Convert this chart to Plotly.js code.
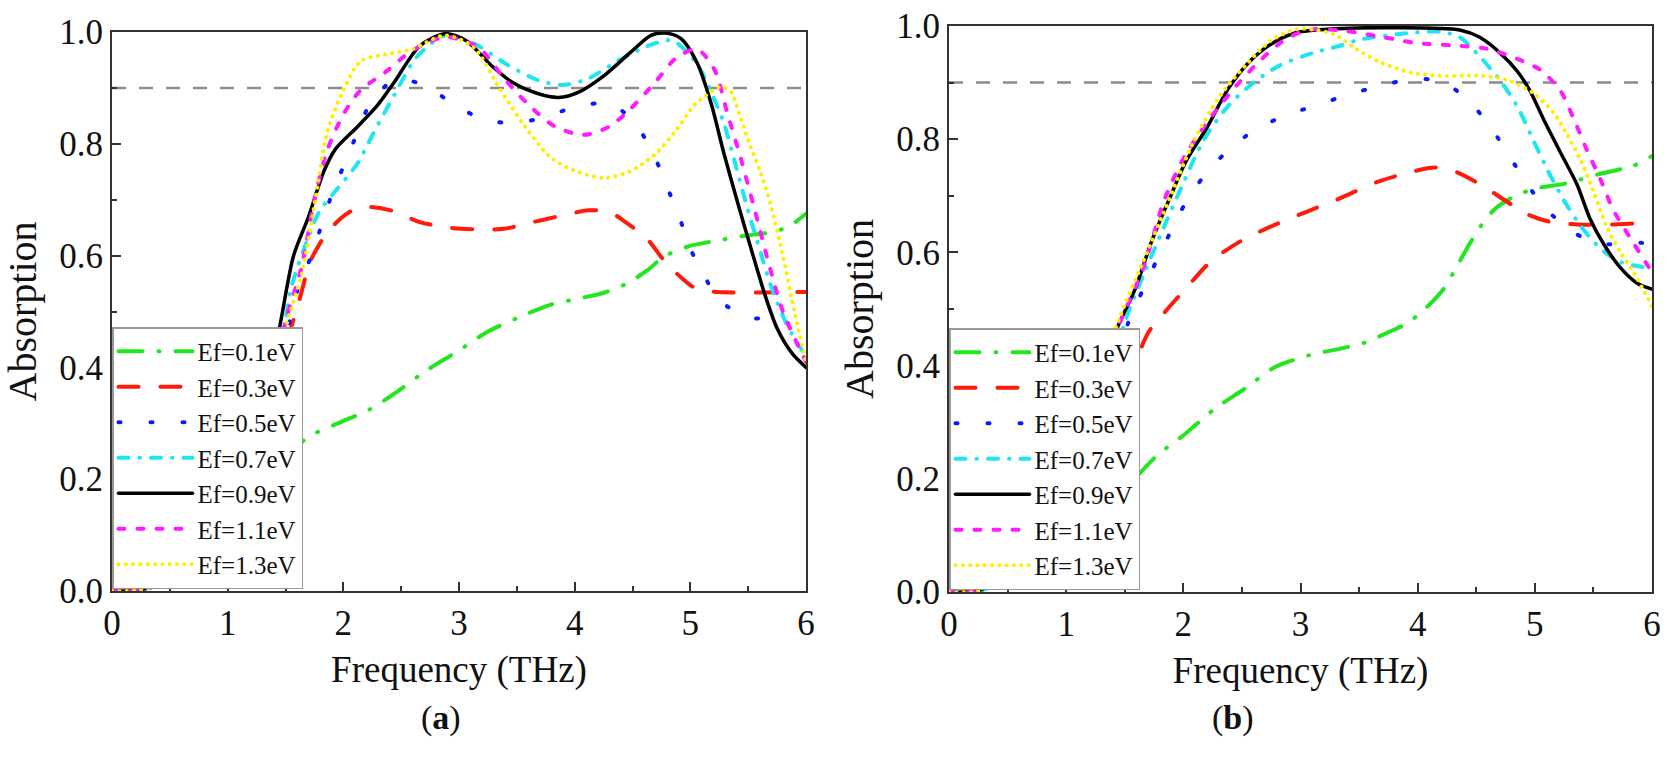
<!DOCTYPE html>
<html>
<head>
<meta charset="utf-8">
<script src="https://cdn.plot.ly/plotly-3.0.1.min.js"></script>
<style>
  html, body { margin: 0; padding: 0; background: #fff; }
  #plot { width: 1671px; height: 766px; }
  /* rounded dash ends, like the original Origin export */
  .js-line { stroke-linecap: round; }
</style>
</head>
<body>
<div id="plot"></div>
<script>
// ─── Panel (a) ─────────────────────────────────────────────────────
const freqA01 = [0, 0.25, 0.6, 1.0, 1.4, 1.68, 1.93, 2.23, 2.44, 2.73, 2.99, 3.24, 3.50, 3.79, 4.08, 4.26, 4.44, 4.63, 4.77, 4.99, 5.21, 5.46, 5.7, 5.85, 6.0];
const absA01  = [0, 0.002, 0.04, 0.12, 0.21, 0.273, 0.298, 0.325, 0.353, 0.396, 0.429, 0.463, 0.488, 0.512, 0.525, 0.534, 0.549, 0.574, 0.598, 0.617, 0.626, 0.635, 0.642, 0.652, 0.675];

const freqA03 = [0, 0.25, 0.6, 1.0, 1.3, 1.5, 1.6, 1.72, 1.86, 2.01, 2.15, 2.41, 2.66, 2.92, 3.17, 3.39, 3.64, 3.90, 4.12, 4.30, 4.44, 4.63, 4.77, 4.92, 5.06, 5.35, 5.6, 6.0];
const absA03  = [0, 0.002, 0.03, 0.12, 0.28, 0.44, 0.505, 0.592, 0.641, 0.672, 0.687, 0.681, 0.66, 0.65, 0.647, 0.648, 0.66, 0.672, 0.681, 0.678, 0.66, 0.629, 0.592, 0.561, 0.54, 0.534, 0.534, 0.535];

const freqA05 = [0, 0.25, 0.6, 1.0, 1.3, 1.5, 1.61, 1.72, 1.90, 2.01, 2.12, 2.23, 2.44, 2.70, 2.95, 3.21, 3.50, 3.77, 4.04, 4.32, 4.53, 4.68, 4.79, 4.90, 4.99, 5.12, 5.26, 5.54, 5.75, 6.0];
const absA05  = [0, 0.002, 0.03, 0.12, 0.27, 0.45, 0.543, 0.598, 0.709, 0.764, 0.819, 0.871, 0.914, 0.905, 0.871, 0.844, 0.837, 0.85, 0.868, 0.871, 0.834, 0.782, 0.727, 0.672, 0.617, 0.564, 0.518, 0.488, 0.49, 0.45];

const freqA07 = [0, 0.25, 0.6, 1.0, 1.3, 1.48, 1.55, 1.68, 1.79, 1.93, 2.12, 2.26, 2.44, 2.63, 2.88, 3.17, 3.39, 3.68, 3.90, 4.12, 4.37, 4.63, 4.84, 4.99, 5.09, 5.21, 5.29, 5.38, 5.49, 5.61, 5.70, 5.85, 6.0];
const absA07  = [0, 0.002, 0.03, 0.13, 0.3, 0.46, 0.543, 0.623, 0.678, 0.715, 0.764, 0.819, 0.887, 0.954, 0.994, 0.975, 0.945, 0.914, 0.905, 0.917, 0.948, 0.975, 0.985, 0.96, 0.932, 0.878, 0.837, 0.771, 0.687, 0.604, 0.544, 0.47, 0.42];

const freqA09 = [0, 0.25, 0.6, 1.0, 1.25, 1.44, 1.57, 1.70, 1.83, 1.93, 2.12, 2.30, 2.44, 2.66, 2.88, 3.06, 3.28, 3.46, 3.68, 3.86, 4.04, 4.26, 4.48, 4.66, 4.79, 4.92, 5.06, 5.18, 5.29, 5.41, 5.52, 5.64, 5.75, 5.88, 6.0];
const absA09  = [0, 0.002, 0.04, 0.15, 0.3, 0.463, 0.60, 0.67, 0.75, 0.79, 0.83, 0.87, 0.91, 0.975, 0.997, 0.985, 0.94, 0.91, 0.89, 0.883, 0.893, 0.923, 0.963, 0.994, 0.998, 0.988, 0.944, 0.872, 0.783, 0.694, 0.616, 0.533, 0.47, 0.425, 0.40];

const freqA11 = [0, 0.25, 0.6, 1.0, 1.3, 1.50, 1.64, 1.75, 1.86, 2.01, 2.15, 2.37, 2.59, 2.88, 3.17, 3.39, 3.61, 3.83, 4.08, 4.30, 4.48, 4.70, 4.88, 5.06, 5.21, 5.32, 5.44, 5.55, 5.67, 5.8, 6.0];
const absA11  = [0, 0.002, 0.03, 0.13, 0.3, 0.482, 0.58, 0.70, 0.788, 0.856, 0.896, 0.929, 0.966, 0.991, 0.972, 0.917, 0.868, 0.831, 0.816, 0.831, 0.862, 0.911, 0.954, 0.969, 0.932, 0.855, 0.771, 0.687, 0.592, 0.5, 0.41];

const freqA13 = [0, 0.25, 0.6, 1.0, 1.3, 1.50, 1.64, 1.75, 1.86, 2.01, 2.15, 2.37, 2.59, 2.88, 3.13, 3.35, 3.57, 3.79, 4.01, 4.26, 4.48, 4.70, 4.88, 5.03, 5.12, 5.26, 5.35, 5.44, 5.52, 5.61, 5.70, 5.8, 5.9, 6.0];
const absA13  = [0, 0.002, 0.03, 0.13, 0.3, 0.47, 0.567, 0.69, 0.82, 0.90, 0.948, 0.96, 0.969, 0.994, 0.972, 0.899, 0.831, 0.776, 0.751, 0.739, 0.751, 0.782, 0.825, 0.868, 0.884, 0.902, 0.893, 0.843, 0.795, 0.747, 0.687, 0.6, 0.5, 0.41];

// ─── Panel (b) ─────────────────────────────────────────────────────
const freqB01 = [0, 0.25, 0.6, 1.0, 1.4, 1.77, 2.02, 2.27, 2.53, 2.78, 3.07, 3.34, 3.54, 3.74, 3.91, 4.05, 4.22, 4.31, 4.42, 4.53, 4.65, 4.79, 4.99, 5.27, 5.56, 5.84, 6.0];
const absB01  = [0, 0.002, 0.03, 0.09, 0.16, 0.24, 0.28, 0.324, 0.36, 0.397, 0.418, 0.43, 0.44, 0.458, 0.475, 0.498, 0.535, 0.566, 0.607, 0.644, 0.675, 0.695, 0.712, 0.722, 0.739, 0.753, 0.77];

const freqB03 = [0, 0.25, 0.6, 1.0, 1.4, 1.70, 1.84, 2.02, 2.24, 2.49, 2.74, 3.03, 3.32, 3.65, 3.94, 4.15, 4.33, 4.55, 4.73, 4.93, 5.13, 5.39, 5.59, 5.84, 6.0];
const absB03  = [0, 0.002, 0.03, 0.12, 0.3, 0.458, 0.494, 0.536, 0.585, 0.62, 0.645, 0.67, 0.694, 0.724, 0.742, 0.75, 0.742, 0.718, 0.694, 0.668, 0.654, 0.649, 0.649, 0.651, 0.656];

const freqB05 = [0, 0.25, 0.6, 1.0, 1.3, 1.53, 1.66, 1.77, 1.90, 2.02, 2.18, 2.36, 2.60, 2.87, 3.14, 3.41, 3.68, 3.97, 4.22, 4.43, 4.62, 4.78, 4.93, 5.09, 5.33, 5.59, 5.90, 6.0];
const absB05  = [0, 0.002, 0.03, 0.12, 0.3, 0.476, 0.536, 0.585, 0.64, 0.688, 0.736, 0.776, 0.815, 0.842, 0.86, 0.879, 0.894, 0.907, 0.9, 0.869, 0.822, 0.771, 0.722, 0.678, 0.635, 0.615, 0.617, 0.615];

const freqB07 = [0, 0.25, 0.6, 1.0, 1.3, 1.50, 1.66, 1.81, 1.99, 2.17, 2.38, 2.60, 2.82, 3.10, 3.32, 3.51, 3.85, 4.19, 4.36, 4.53, 4.70, 4.85, 4.99, 5.10, 5.24, 5.39, 5.56, 5.73, 6.0];
const absB07  = [0, 0.002, 0.03, 0.13, 0.32, 0.476, 0.56, 0.633, 0.718, 0.797, 0.858, 0.9, 0.93, 0.952, 0.964, 0.976, 0.986, 0.99, 0.98, 0.946, 0.905, 0.858, 0.797, 0.749, 0.695, 0.647, 0.607, 0.583, 0.572];

const freqB09 = [0, 0.25, 0.6, 1.0, 1.25, 1.43, 1.59, 1.73, 1.88, 2.02, 2.20, 2.38, 2.56, 2.74, 2.96, 3.29, 3.8, 4.36, 4.53, 4.70, 4.85, 4.96, 5.07, 5.22, 5.36, 5.47, 5.59, 5.73, 5.87, 6.0];
const absB09  = [0, 0.002, 0.06, 0.22, 0.36, 0.464, 0.536, 0.62, 0.694, 0.76, 0.82, 0.888, 0.936, 0.967, 0.988, 0.995, 0.997, 0.993, 0.98, 0.953, 0.92, 0.885, 0.837, 0.776, 0.72, 0.66, 0.614, 0.573, 0.546, 0.535];

const freqB11 = [0, 0.25, 0.6, 1.0, 1.25, 1.46, 1.66, 1.84, 2.02, 2.24, 2.45, 2.67, 2.89, 3.10, 3.39, 3.71, 3.99, 4.28, 4.59, 4.85, 5.05, 5.22, 5.33, 5.44, 5.56, 5.67, 5.81, 6.0];
const absB11  = [0, 0.002, 0.05, 0.2, 0.35, 0.476, 0.573, 0.694, 0.773, 0.84, 0.894, 0.942, 0.979, 0.994, 0.991, 0.98, 0.97, 0.966, 0.96, 0.942, 0.922, 0.885, 0.837, 0.783, 0.729, 0.675, 0.627, 0.565];

const freqB13 = [0, 0.25, 0.6, 1.0, 1.25, 1.44, 1.66, 1.88, 2.09, 2.31, 2.53, 2.74, 2.96, 3.10, 3.29, 3.47, 3.68, 3.94, 4.19, 4.53, 4.76, 4.99, 5.16, 5.27, 5.39, 5.50, 5.61, 5.73, 5.84, 6.0];
const absB13  = [0, 0.002, 0.05, 0.2, 0.35, 0.476, 0.585, 0.694, 0.797, 0.876, 0.93, 0.973, 0.994, 0.994, 0.985, 0.96, 0.936, 0.918, 0.912, 0.912, 0.905, 0.881, 0.847, 0.81, 0.763, 0.708, 0.647, 0.6, 0.566, 0.505];

const seriesNames = ['Ef=0.1eV', 'Ef=0.3eV', 'Ef=0.5eV', 'Ef=0.7eV', 'Ef=0.9eV', 'Ef=1.1eV', 'Ef=1.3eV'];
const thresholdLevel = 0.9;

// line styles per Fermi level (dash lengths account for the round caps)
const STYLES = [
    { color: '#22e61e', width: 4,   dash: '24px,16px,1px,16px' },
    { color: '#ff1a0a', width: 4,   dash: '20px,22px' },
    { color: '#0a1aff', width: 4,   dash: '2px,30px' },
    { color: '#1ee6f0', width: 4,   dash: '10px,11px,0.5px,11px' },
    { color: '#000000', width: 3.5, dash: 'solid' },
    { color: '#ff1aff', width: 4,   dash: '6px,13px' },
    { color: '#ffee00', width: 4,   dash: '0.1px,7.2px' }
];

const FONT = 'Liberation Serif, Times New Roman, serif';
const W = 1671, H = 766;

function mkTrace(x, y, i, xa, ya, legend) {
    return {
        x, y, name: seriesNames[i], type: 'scatter', mode: 'lines',
        line: { color: STYLES[i].color, width: STYLES[i].width, dash: STYLES[i].dash, shape: 'spline', smoothing: 0.8 },
        xaxis: xa, yaxis: ya, legend
    };
}

const panelA = [[freqA01, absA01], [freqA03, absA03], [freqA05, absA05], [freqA07, absA07],
                [freqA09, absA09], [freqA11, absA11], [freqA13, absA13]];
const panelB = [[freqB01, absB01], [freqB03, absB03], [freqB05, absB05], [freqB07, absB07],
                [freqB09, absB09], [freqB11, absB11], [freqB13, absB13]];

const data = [
    ...panelA.map(([x, y], i) => mkTrace(x, y, i, 'x', 'y', 'legend')),
    ...panelB.map(([x, y], i) => mkTrace(x, y, i, 'x2', 'y2', 'legend2'))
];

// plot-area pixel boxes measured on the reference
const boxA = { l: 112, r: 806, t: 32, b: 591 };
const boxB = { l: 949, r: 1652, t: 26, b: 592 };
const px = v => v / W;
const py = v => (H - v) / H;

function xAxis(box) {
    return {
        domain: [px(box.l), px(box.r)], range: [0, 6], dtick: 1,
        showline: true, mirror: true, linecolor: '#333', linewidth: 2,
        ticks: 'inside', ticklen: 9, tickwidth: 2, tickcolor: '#333',
        minor: { ticks: 'inside', ticklen: 5, tickwidth: 2, dtick: 0.5, tickcolor: '#333' },
        showgrid: false, zeroline: false, automargin: false,
        tickfont: { family: FONT, size: 35, color: '#111' },
        title: { text: 'Frequency (THz)', font: { family: FONT, size: 37, color: '#111' }, standoff: 14 }
    };
}
function yAxis(box, anchor) {
    return {
        domain: [py(box.b), py(box.t)], range: [0, 1], dtick: 0.2, tickformat: '.1f',
        anchor,
        showline: true, mirror: true, linecolor: '#333', linewidth: 2,
        ticks: 'inside', ticklen: 9, tickwidth: 2, tickcolor: '#333',
        minor: { ticks: 'inside', ticklen: 5, tickwidth: 2, dtick: 0.1, tickcolor: '#333' },
        showgrid: false, zeroline: false, automargin: false,
        tickfont: { family: FONT, size: 35, color: '#111' },
        title: { text: 'Absorption', font: { family: FONT, size: 40, color: '#111' }, standoff: 10 }
    };
}
function legendAt(box) {
    return {
        x: px(box.l), xanchor: 'left', y: py(box.b - 2), yanchor: 'bottom',
        bgcolor: '#fff', bordercolor: '#999', borderwidth: 1.5,
        font: { family: FONT, size: 25, color: '#111' },
        itemwidth: 74, tracegroupgap: 0, traceorder: 'normal'
    };
}
function thresholdLine(xref, yref) {
    return { type: 'line', xref, yref, x0: 0, x1: 6, y0: thresholdLevel, y1: thresholdLevel,
             layer: 'below', line: { color: '#8c8c8c', width: 2.5, dash: '14px,13px' } };
}

const layout = {
    width: W, height: H,
    margin: { l: 0, r: 0, t: 0, b: 0 },
    paper_bgcolor: '#fff', plot_bgcolor: '#fff',
    showlegend: true,
    xaxis: { ...xAxis(boxA), anchor: 'y' },
    yaxis: yAxis(boxA, 'x'),
    xaxis2: { ...xAxis(boxB), anchor: 'y2' },
    yaxis2: yAxis(boxB, 'x2'),
    legend: legendAt(boxA),
    legend2: legendAt(boxB),
    shapes: [thresholdLine('x', 'y'), thresholdLine('x2', 'y2')],
    annotations: [
        { text: '(<b>a</b>)', x: px(419), y: py(739), xref: 'paper', yref: 'paper', showarrow: false,
          font: { family: FONT, size: 34, color: '#111' } },
        { text: '(<b>b</b>)', x: px(1256), y: py(739), xref: 'paper', yref: 'paper', showarrow: false,
          font: { family: FONT, size: 34, color: '#111' } }
    ]
};

Plotly.newPlot('plot', data, layout, { staticPlot: true, displayModeBar: false });
</script>
</body>
</html>
